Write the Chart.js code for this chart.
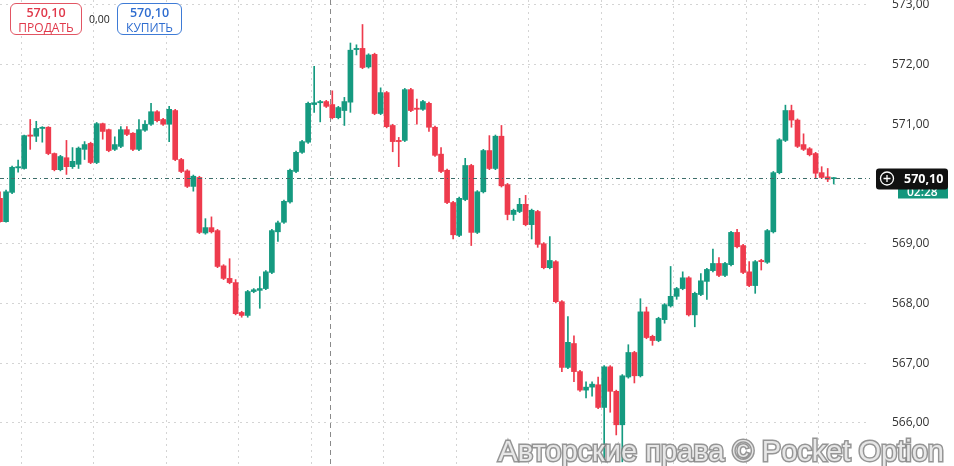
<!DOCTYPE html>
<html><head><meta charset="utf-8">
<script src="https://cdn.jsdelivr.net/npm/chart.js@4.4.1/dist/chart.umd.min.js"></script>
<style>
html,body{margin:0;padding:0;background:#fff;font-family:"Open Sans","Noto Sans",sans-serif;}
#wrap{position:relative;width:954px;height:466px;}
.box{position:absolute;top:3px;height:32px;border-radius:6px;text-align:center;font-size:12px;line-height:15px;padding-top:1px;box-sizing:border-box;background:#fff;}
.box b{font-size:12.5px;font-weight:600;}
</style></head><body>
<div id="wrap">
<canvas id="c" width="954" height="466"></canvas>
<div class="box" style="left:10px;width:72px;border:1px solid #e25563;color:#e0384a;"><b>570,10</b><br>ПРОДАТЬ</div>
<div style="position:absolute;left:89px;top:12px;font-size:10.5px;color:#222;">0,00</div>
<div class="box" style="left:117px;width:65px;border:1px solid #3e7bd6;color:#2f6dd0;"><b>570,10</b><br>КУПИТЬ</div>
</div>
<script>
const opens=[569.76,569.37,569.86,570.27,570.26,570.82,570.80,570.93,570.95,570.51,570.24,570.44,570.29,570.33,570.58,570.68,570.36,571.01,570.91,570.58,570.63,570.91,570.85,570.58,570.90,571.00,571.21,571.08,571.00,571.23,570.41,570.22,569.96,570.11,569.18,569.27,569.22,568.63,568.42,568.35,567.85,567.80,568.20,568.22,568.25,568.52,
569.20,569.36,569.70,570.21,570.53,570.70,571.33,571.36,571.38,571.33,571.11,571.23,571.37,572.25,572.27,571.96,572.17,571.18,571.53,570.98,570.73,570.73,571.58,571.27,571.25,571.35,570.95,570.50,570.23,569.69,569.14,569.74,570.31,569.19,569.87,570.56,570.26,570.80,569.99,569.49,569.54,569.66,569.32,569.54,569.00,
568.60,568.70,568.03,566.93,567.33,566.86,566.55,566.60,566.64,566.26,566.94,566.53,565.97,566.77,567.18,566.79,567.86,567.45,567.38,567.73,567.96,568.12,568.25,568.43,567.81,568.15,568.37,568.55,568.67,568.47,568.65,569.19,568.97,568.53,568.30,568.72,568.69,569.20,570.19,570.73,571.23,571.07,570.66,570.59,570.51,570.19,570.12,570.09];
const closes=[569.37,569.87,570.28,570.29,570.81,570.80,570.93,570.95,570.51,570.24,570.46,570.29,570.38,570.60,570.66,570.36,571.01,570.88,570.56,570.66,570.91,570.83,570.58,570.91,571.00,571.21,571.06,571.00,571.25,570.41,570.21,569.96,570.13,569.19,569.27,569.20,568.62,568.42,568.35,567.83,567.80,568.20,568.23,568.25,568.53,569.22,
569.35,569.71,570.23,570.53,570.71,571.35,571.36,571.38,571.30,571.11,571.28,571.38,572.24,572.27,571.95,572.16,571.18,571.53,570.96,570.71,570.71,571.58,571.23,571.25,571.38,570.95,570.48,570.21,569.69,569.15,569.76,570.31,569.19,569.87,570.56,570.26,570.80,569.97,569.49,569.56,569.66,569.32,569.56,568.99,568.60,
568.72,568.03,566.93,567.35,566.86,566.55,566.60,566.65,566.26,566.94,566.53,565.97,566.79,567.18,566.79,567.86,567.43,567.38,567.75,567.98,568.12,568.25,568.43,567.81,568.17,568.38,568.57,568.67,568.47,568.67,569.19,568.95,568.52,568.30,568.70,568.70,569.22,570.19,570.74,571.23,571.07,570.63,570.58,570.49,570.18,570.11,570.08,570.10];
const highs=[569.87,569.90,570.30,570.40,570.82,571.08,571.05,570.96,570.96,570.52,570.48,570.73,570.61,570.62,570.71,570.70,571.03,571.02,570.92,570.79,570.96,570.96,570.86,571.08,571.06,571.35,571.23,571.10,571.30,571.25,570.43,570.24,570.15,570.13,569.42,569.45,569.24,568.65,568.75,568.40,567.87,568.22,568.25,568.45,568.55,569.24,
569.38,569.73,570.25,570.55,570.73,571.37,571.97,571.40,571.40,571.56,571.30,571.45,572.36,572.33,572.67,572.18,572.19,571.61,571.55,571.00,570.78,571.60,571.60,571.42,571.40,571.37,570.97,570.61,570.25,569.71,569.78,570.43,570.33,569.89,570.58,570.81,570.82,570.98,570.01,569.58,569.76,569.81,569.58,569.56,569.02,
569.12,568.72,568.05,567.78,567.46,566.88,566.69,566.69,566.77,566.96,566.96,566.55,566.81,567.31,567.20,568.08,567.94,567.47,567.77,568.00,568.62,568.27,568.53,568.45,568.19,568.50,568.59,568.91,568.77,568.69,569.21,569.24,568.99,568.70,568.72,568.74,569.24,570.21,570.76,571.32,571.32,571.09,570.84,570.61,570.53,570.29,570.26,570.11];
const lows=[569.36,569.36,569.84,570.20,570.25,570.58,570.71,570.70,570.49,570.22,570.22,570.16,570.26,570.26,570.41,570.34,570.34,570.75,570.54,570.56,570.61,570.81,570.56,570.56,570.88,570.98,571.04,570.98,570.71,570.39,570.19,569.94,569.88,569.17,569.16,569.18,568.60,568.40,568.33,567.81,567.77,567.77,568.18,567.92,568.23,568.50,
569.04,569.34,569.68,570.19,570.51,570.68,571.20,571.04,571.28,571.09,571.09,570.98,571.20,572.16,571.93,571.94,571.16,571.16,570.94,570.54,570.29,570.71,571.21,571.00,571.23,570.88,570.46,570.19,569.67,569.08,569.12,569.72,568.97,569.17,569.85,570.24,570.24,569.95,569.40,569.39,569.52,569.30,569.08,568.94,568.58,
568.58,568.01,566.86,566.91,566.69,566.53,566.42,566.45,566.24,565.38,566.18,565.80,565.35,566.75,566.67,566.77,567.41,567.30,567.36,567.67,567.94,568.07,568.23,567.79,567.61,568.13,568.07,568.53,568.45,568.45,568.63,568.93,568.50,568.28,568.17,568.56,568.67,569.18,570.17,570.71,570.95,570.61,570.56,570.47,570.10,570.09,570.04,570.00];
const priceTicks=[566,567,568,569,570,571,572,573];
const lastPrice=570.10;

const GREEN='#159a80', RED='#ee3b4d';
const N=145;
const labels=[];for(let i=0;i<N;i++)labels.push(String(i));
const cols=opens.map((o,i)=>closes[i]>=o?GREEN:RED);
const fmt=v=>v.toFixed(2).replace('.',',');

const overlay={id:'ov',
 beforeDatasetsDraw(ch){const c=ch.ctx,xs=ch.scales.x;
  c.save();c.strokeStyle='#8a8a8a';c.lineWidth=1;c.setLineDash([5,4]);
  const cx=Math.round((xs.getPixelForValue(54)+xs.getPixelForValue(55))/2)+1.5;
  c.beginPath();c.moveTo(cx,0);c.lineTo(cx,466);c.stroke();c.restore();},
 afterDatasetsDraw(ch){const c=ch.ctx,a=ch.chartArea,ys=ch.scales.y;
  const y=Math.round(ys.getPixelForValue(lastPrice))+0.5;
  c.save();c.strokeStyle='#3d6e6a';c.lineWidth=1;c.setLineDash([4,3,1,3]);
  c.beginPath();c.moveTo(0,y);c.lineTo(a.right,y);c.stroke();c.setLineDash([]);
  c.fillStyle='#14967c';c.fillRect(898,y+6,50,14);
  c.fillStyle='#fff';c.font='600 12px "Open Sans"';c.textAlign='left';c.textBaseline='middle';c.fillText('02:28',907,y+14);
  c.fillStyle='#111';c.beginPath();c.roundRect(876,y-10,72,21,3);c.fill();
  c.strokeStyle='#fff';c.lineWidth=1.3;c.beginPath();c.arc(887,y,6.5,0,Math.PI*2);c.stroke();
  c.beginPath();c.moveTo(883.5,y);c.lineTo(890.5,y);c.moveTo(887,y-3.5);c.lineTo(887,y+3.5);c.stroke();
  c.fillStyle='#fff';c.font='bold 12.5px "Open Sans"';c.fillText(fmt(lastPrice),904,y+0.5);
  c.font='29px "Liberation Sans"';c.textAlign='right';c.textBaseline='alphabetic';
  c.lineWidth=3;c.strokeStyle='rgba(130,130,130,0.85)';c.strokeText('Авторские права © Pocket Option',944,461);
  c.fillStyle='rgba(235,235,235,0.95)';c.fillText('Авторские права © Pocket Option',944,461);
  c.restore();}};

new Chart(document.getElementById('c'),{type:'bar',
 data:{labels,datasets:[
  {data:lows.map((l,i)=>[l,highs[i]]),backgroundColor:cols,barThickness:1,grouped:false,order:2},
  {data:opens.map((o,i)=>[o,closes[i]]),backgroundColor:cols,barThickness:5,grouped:false,minBarLength:1,order:1}]},
 options:{responsive:false,animation:false,devicePixelRatio:1,
  layout:{padding:0},
  plugins:{legend:{display:false},tooltip:{enabled:false}},
  scales:{
   x:{offset:false,ticks:{display:false,autoSkip:false},border:{display:false,dash:[2,4]},
      grid:{drawTicks:false,color:c=>c.index%12===4?'#d4d4d4':'rgba(0,0,0,0)',lineWidth:1},
      afterFit(s){s.height=0;s.paddingLeft=0;s.paddingRight=0;}},
   y:{position:'right',min:565.28,max:573.08,
      afterBuildTicks(s){s.ticks=priceTicks.map(v=>({value:v}));},
      afterFit(s){s.width=84;s.paddingTop=0;s.paddingBottom=0;},
      border:{display:false,dash:[2,4]},
      grid:{color:'#d4d4d4',drawTicks:false},
      ticks:{padding:22,color:'#333',font:{size:12,family:'"Open Sans"'},callback:v=>fmt(v)}}}},
 plugins:[overlay]});
</script></body></html>
